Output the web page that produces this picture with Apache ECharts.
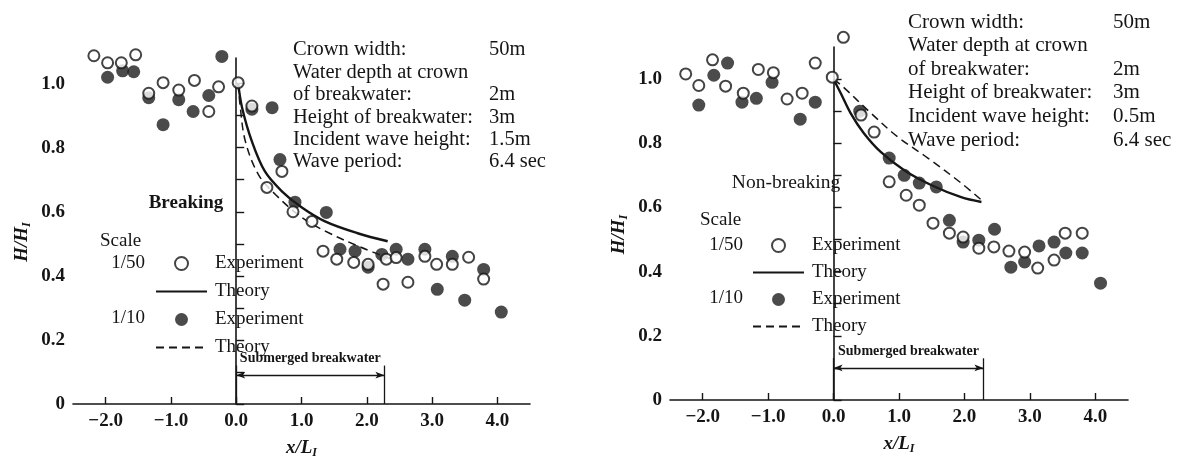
<!DOCTYPE html>
<html>
<head>
<meta charset="utf-8">
<title>Wave height over submerged breakwater</title>
<script src="https://cdn.jsdelivr.net/npm/echarts@6/dist/echarts.min.js"></script>
<style>
  html, body { margin: 0; padding: 0; background: #fff; }
  #main { width: 1181px; height: 464px; }
</style>
</head>
<body>
<div id="main"></div>
<script>
// ---- data ----
// left panel: breaking waves
var brOpenX = [-2.18, -1.97, -1.76, -1.54, -1.34, -1.12, -0.88, -0.64, -0.42, -0.27, 0.03, 0.24, 0.47, 0.70, 0.87, 1.16, 1.33, 1.54, 1.80, 2.02, 2.25, 2.30, 2.45, 2.63, 2.89, 3.07, 3.31, 3.56, 3.79];
var brOpenY = [1.087, 1.065, 1.065, 1.09, 0.97, 1.003, 0.98, 1.01, 0.913, 0.99, 1.003, 0.93, 0.676, 0.726, 0.60, 0.57, 0.477, 0.452, 0.442, 0.436, 0.374, 0.452, 0.457, 0.38, 0.461, 0.436, 0.436, 0.458, 0.39];
var brFillX = [-1.97, -1.74, -1.57, -1.34, -1.12, -0.88, -0.66, -0.42, -0.22, 0.24, 0.55, 0.67, 0.90, 1.38, 1.59, 1.82, 2.02, 2.23, 2.45, 2.63, 2.89, 3.08, 3.31, 3.50, 3.79, 4.06];
var brFillY = [1.02, 1.04, 1.037, 0.956, 0.872, 0.95, 0.913, 0.963, 1.085, 0.92, 0.925, 0.763, 0.63, 0.598, 0.483, 0.477, 0.427, 0.467, 0.483, 0.452, 0.483, 0.358, 0.461, 0.324, 0.42, 0.287];
var brSolidX = [0.03, 0.09, 0.24, 0.44, 0.70, 1.00, 1.36, 1.86, 2.32];
var brSolidY = [1.0, 0.925, 0.82, 0.726, 0.664, 0.614, 0.57, 0.533, 0.508];
var brDashX = [0.03, 0.06, 0.14, 0.34, 0.60, 1.00, 1.40, 1.90, 2.40];
var brDashY = [1.0, 0.93, 0.82, 0.716, 0.654, 0.583, 0.536, 0.49, 0.45];

// right panel: non-breaking waves
var nbOpenX = [-2.26, -2.06, -1.85, -1.65, -1.38, -1.15, -0.92, -0.71, -0.48, -0.28, -0.02, 0.15, 0.42, 0.62, 0.85, 1.11, 1.31, 1.52, 1.77, 1.98, 2.22, 2.45, 2.68, 2.92, 3.12, 3.37, 3.54, 3.80];
var nbOpenY = [1.016, 0.98, 1.06, 0.978, 0.956, 1.03, 1.02, 0.938, 0.956, 1.05, 1.006, 1.13, 0.888, 0.835, 0.68, 0.638, 0.607, 0.551, 0.52, 0.508, 0.473, 0.477, 0.464, 0.461, 0.411, 0.436, 0.52, 0.52];
var nbFillX = [-2.06, -1.83, -1.62, -1.40, -1.18, -0.94, -0.51, -0.28, 0.40, 0.85, 1.08, 1.31, 1.57, 1.77, 1.98, 2.22, 2.46, 2.71, 2.92, 3.14, 3.37, 3.55, 3.80, 4.08];
var nbFillY = [0.919, 1.012, 1.05, 0.928, 0.94, 0.99, 0.875, 0.928, 0.90, 0.754, 0.70, 0.676, 0.664, 0.56, 0.492, 0.498, 0.532, 0.414, 0.43, 0.48, 0.492, 0.458, 0.458, 0.364];
var nbSolidX = [0.0, 0.11, 0.26, 0.46, 0.72, 1.08, 1.49, 1.95, 2.26];
var nbSolidY = [1.0, 0.956, 0.894, 0.832, 0.773, 0.716, 0.67, 0.632, 0.617];
var nbDashX = [0.0, 0.15, 0.57, 0.98, 1.44, 1.95, 2.26];
var nbDashY = [1.0, 0.975, 0.894, 0.82, 0.754, 0.676, 0.623];

// axes
var xTickVals = [-2, -1, 0, 1, 2, 3, 4];
var yTickVals = [0, 0.1, 0.2, 0.3, 0.4, 0.5, 0.6, 0.7, 0.8, 0.9, 1.0];
var yLabelVals = [0, 0.2, 0.4, 0.6, 0.8, 1.0];

// submerged breakwater extent (x/L) and bracket heights
var bwEnd = [2.27, 2.29];
var bwTop = [0.12, 0.13];
var bwArrow = [0.09, 0.10];

// condition text
var infoLabels = ['Crown width:', 'Water depth at crown', 'of breakwater:', 'Height of breakwater:', 'Incident wave height:', 'Wave period:'];
var infoBreaking = ['50m', '', '2m', '3m', '1.5m', '6.4 sec'];
var infoNonBreaking = ['50m', '', '2m', '3m', '0.5m', '6.4 sec'];

var FONT = 'Liberation Serif';
var INK = '#151515';

function zip(xs, ys) {
    var out = [];
    for (var i = 0; i < xs.length; i++) out.push([xs[i], ys[i]]);
    return out;
}

function xAxisFor(idx) {
    return {
        type: 'value', gridIndex: idx, min: -2.5, max: 4.5,
        axisLine: { show: true, onZero: false, lineStyle: { color: INK, width: 1.6 } },
        axisTick: { show: true, inside: true, length: 7, customValues: xTickVals, lineStyle: { color: INK, width: 1.4 } },
        axisLabel: {
            customValues: xTickVals, margin: 8, color: INK,
            fontFamily: FONT, fontSize: 19, fontWeight: 'bold',
            formatter: function (v) { return (v < 0 ? '\u2212' : '') + Math.abs(v).toFixed(1); }
        },
        splitLine: { show: false },
        name: '{m|x/L}{s|I}', nameLocation: 'middle', nameGap: 34,
        nameTextStyle: {
            rich: {
                m: { fontFamily: FONT, fontSize: 19, fontStyle: 'italic', fontWeight: 'bold', color: INK },
                s: { fontFamily: FONT, fontSize: 12, fontStyle: 'italic', fontWeight: 'bold', color: INK, padding: [9, 0, 0, 0] }
            }
        }
    };
}

function yAxisFor(idx, top) {
    return {
        type: 'value', gridIndex: idx, min: 0, max: top,
        axisLine: { show: true, lineStyle: { color: INK, width: 1.6 } },
        axisTick: { show: true, inside: true, length: 8, customValues: yTickVals, lineStyle: { color: INK, width: 1.4 } },
        axisLabel: {
            customValues: yLabelVals, margin: 8, color: INK,
            fontFamily: FONT, fontSize: 19, fontWeight: 'bold',
            formatter: function (v) { return v === 0 ? '0' : v.toFixed(1); }
        },
        splitLine: { show: false },
        name: '{m|H/H}{s|I}', nameLocation: 'middle', nameGap: 40, nameRotate: 90,
        nameTextStyle: {
            padding: [0, 22, 0, 0],
            rich: {
                m: { fontFamily: FONT, fontSize: 19, fontStyle: 'italic', fontWeight: 'bold', color: INK },
                s: { fontFamily: FONT, fontSize: 12, fontStyle: 'italic', fontWeight: 'bold', color: INK, padding: [9, 0, 0, 0] }
            }
        }
    };
}

function panelSeries(idx, solid, dash, filled, open) {
    var ax = { xAxisIndex: idx, yAxisIndex: idx };
    return [
        Object.assign({
            name: 'Theory 1/50', type: 'line', data: solid, smooth: 0.35, symbol: 'none',
            itemStyle: { color: INK, opacity: 0 },
            lineStyle: { color: INK, width: 2.4 }, z: 2
        }, ax),
        Object.assign({
            name: 'Theory 1/10', type: 'line', data: dash, smooth: 0.35, symbol: 'none',
            itemStyle: { color: INK, opacity: 0 },
            lineStyle: { color: INK, width: 1.5, type: [8, 5] }, z: 2
        }, ax),
        Object.assign({
            name: 'Experiment 1/10', type: 'scatter', data: filled, symbol: 'circle', symbolSize: 13,
            clip: false, itemStyle: { color: '#1e1e1e' }, z: 3
        }, ax),
        Object.assign({
            name: 'Experiment 1/50', type: 'scatter', data: open, symbol: 'circle', symbolSize: 11,
            clip: false, itemStyle: { color: '#fff', borderColor: INK, borderWidth: 2 }, z: 4
        }, ax),
        Object.assign({
            name: 'breakwater', type: 'line', data: [], z: 2,
            markLine: {
                silent: true, animation: false, symbol: 'none',
                lineStyle: { color: INK, width: 1.3, type: 'solid' },
                label: { show: false },
                data: [
                    [{ coord: [0, 0] }, { coord: [0, bwTop[idx]] }],
                    [{ coord: [bwEnd[idx], 0] }, { coord: [bwEnd[idx], bwTop[idx]] }],
                    [{
                        coord: [0, bwArrow[idx]], symbol: 'arrow', symbolSize: [5, 9],
                        label: {
                            show: true, position: 'middle', distance: 10,
                            formatter: 'Submerged breakwater', color: INK,
                            fontFamily: FONT, fontSize: 14, fontWeight: 'bold'
                        }
                    }, { coord: [bwEnd[idx], bwArrow[idx]], symbol: 'arrow', symbolSize: [5, 9] }]
                ]
            }
        }, ax)
    ];
}

function legendFor(left, top, gap) {
    return {
        left: left, top: top, orient: 'vertical', padding: 0,
        itemWidth: 51, itemHeight: 13, itemGap: gap, selectedMode: false,
        data: ['Experiment 1/50', 'Theory 1/50', 'Experiment 1/10', 'Theory 1/10'],
        formatter: function (n) { return n.split(' ')[0]; },
        textStyle: { fontFamily: FONT, fontSize: 19, color: INK, padding: [0, 0, 0, 3] }
    };
}

function textEl(x, y, str, size, extra) {
    return {
        type: 'text', x: x, y: y, silent: true,
        style: {
            text: str, fill: INK, font: (extra && extra.weight ? extra.weight + ' ' : '') + size + 'px "' + FONT + '"',
            align: (extra && extra.align) || 'left', verticalAlign: 'middle',
            lineHeight: (extra && extra.lineHeight) || size
        }
    };
}

var chart = echarts.init(document.getElementById('main'), null, { renderer: 'canvas' });

var option = {
    animation: false,
    backgroundColor: '#fff',
    grid: [
        { left: 73, top: 58, width: 457, height: 347 },
        { left: 670, top: 47, width: 458, height: 353 }
    ],
    xAxis: [xAxisFor(0), xAxisFor(1)],
    yAxis: [yAxisFor(0, 1.08), yAxisFor(1, 1.10)],
    legend: [legendFor(155, 254, 9), legendFor(752, 236, 8)],
    series: [].concat(
        panelSeries(0, zip(brSolidX, brSolidY), zip(brDashX, brDashY), zip(brFillX, brFillY), zip(brOpenX, brOpenY)),
        panelSeries(1, zip(nbSolidX, nbSolidY), zip(nbDashX, nbDashY), zip(nbFillX, nbFillY), zip(nbOpenX, nbOpenY))
    ),
    graphic: [
        // left panel texts
        textEl(293, 50 + 22.4 * 2.5, infoLabels.join('\n'), 20.5, { lineHeight: 22.4 }),
        textEl(489, 50 + 22.4 * 2.5, infoBreaking.join('\n'), 20.5, { lineHeight: 22.4 }),
        textEl(186, 203, 'Breaking', 19, { align: 'center', weight: 'bold' }),
        textEl(100, 241, 'Scale', 19),
        textEl(145, 263, '1/50', 19, { align: 'right' }),
        textEl(145, 318, '1/10', 19, { align: 'right' }),
        // right panel texts
        textEl(908, 22 + 23.6 * 2.5, infoLabels.join('\n'), 21, { lineHeight: 23.6 }),
        textEl(1113, 22 + 23.6 * 2.5, infoNonBreaking.join('\n'), 21, { lineHeight: 23.6 }),
        textEl(786, 183, 'Non-breaking', 19.5, { align: 'center' }),
        textEl(700, 220, 'Scale', 19),
        textEl(743, 245, '1/50', 19, { align: 'right' }),
        textEl(743, 298, '1/10', 19, { align: 'right' })
    ]
};

chart.setOption(option);
</script>
</body>
</html>
